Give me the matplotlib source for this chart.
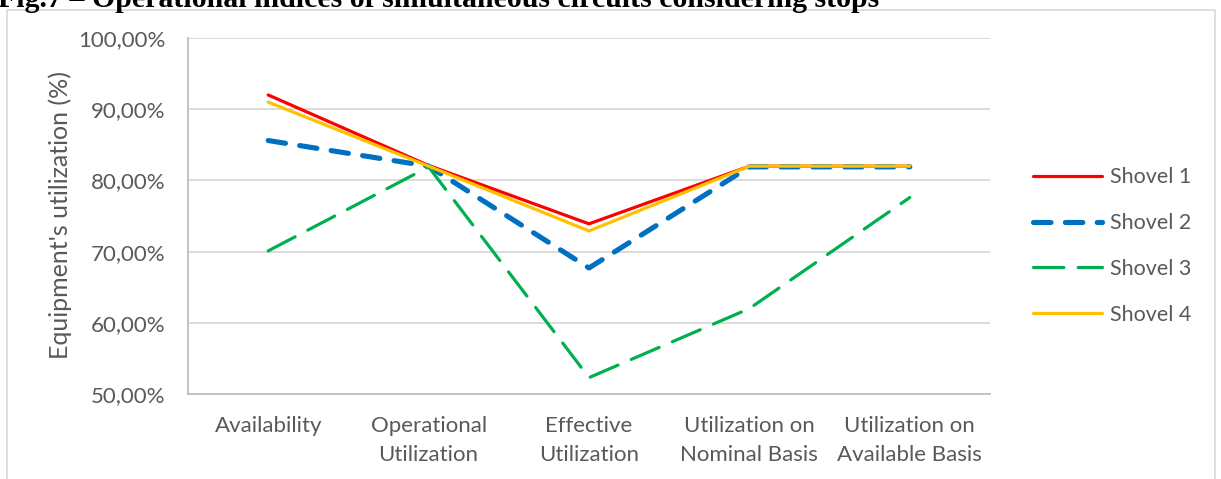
import matplotlib
matplotlib.use('Agg')
import matplotlib.pyplot as plt
from matplotlib.lines import Line2D

# data
categories = ['Availability', 'Operational\nUtilization', 'Effective\nUtilization',
              'Utilization on\nNominal Basis', 'Utilization on\nAvailable Basis']
shovel1 = [92.0, 82.1, 73.9, 82.0, 82.0]
shovel2 = [85.6, 82.0, 67.7, 81.9, 81.9]
shovel3 = [70.1, 81.9, 52.3, 62.0, 77.6]
shovel4 = [91.0, 82.0, 72.9, 82.0, 82.0]
series_names = ['Shovel 1', 'Shovel 2', 'Shovel 3', 'Shovel 4']
yticks = [50, 60, 70, 80, 90, 100]

plt.rcParams['font.family'] = ['Lato', 'DejaVu Sans']
grey = '#595959'

fig = plt.figure(figsize=(12.21, 4.79), dpi=100)
ax = fig.add_axes([188/1221, 1 - 394/479, (990-188)/1221, (394-38)/479])

x = list(range(len(categories)))
ax.plot(x, shovel1, color='#FF0000', lw=2.3, solid_capstyle='round', label=series_names[0])
ax.plot(x, shovel2, color='#0070C0', lw=3.7, dashes=(3.4, 2.8), dash_capstyle='round', label=series_names[1])
ax.plot(x, shovel3, color='#00B050', lw=2.3, dashes=(9.5, 4.5), dash_capstyle='round', label=series_names[2])
ax.plot(x, shovel4, color='#FFC000', lw=2.3, solid_capstyle='round', label=series_names[3])

ax.set_xlim(-0.5, len(categories) - 0.5)
ax.set_ylim(50, 100)
ax.set_yticks(yticks)
ax.set_yticklabels([('%.2f' % v).replace('.', ',') + '%' for v in yticks])
ax.set_xticks(x)
ax.set_xticklabels(categories, linespacing=1.55)
ax.tick_params(axis='both', length=0, labelsize=16, colors=grey)
ax.tick_params(axis='x', pad=16)
ax.tick_params(axis='y', pad=16)
ax.grid(axis='y', color='#D9D9D9', lw=1.3)
ax.set_axisbelow(True)
for s in ['top', 'right']:
    ax.spines[s].set_visible(False)
for s in ['left', 'bottom']:
    ax.spines[s].set_color('#BFBFBF')
    ax.spines[s].set_linewidth(1.3)

fig.text(60/1221, 1 - 215/479, "Equipment's utilization (%)", rotation=90,
         ha='center', va='center', fontsize=18, color=grey)

ax.legend(loc='center left', bbox_to_anchor=(1033/1221, 1 - 246/479),
          bbox_transform=fig.transFigure, frameon=False, fontsize=15.5,
          borderpad=0, borderaxespad=0,
          handlelength=3.2, handletextpad=0.4, labelspacing=1.2, labelcolor=grey)

# chart border and clipped caption above it
fig.add_artist(Line2D([7/1221, 7/1221, 1215/1221, 1215/1221],
                      [-0.1, 1 - 10/479, 1 - 10/479, -0.1],
                      transform=fig.transFigure, color='#D9D9D9', lw=1.2))
fig.text(-2/1221, 1 - 7/479, 'Fig.7 \u2013 Operational indices of simultaneous circuits considering stops',
         family='Liberation Serif', fontweight='bold', fontsize=21.5, ha='left', va='baseline')

fig.savefig('out.png', dpi=100)
